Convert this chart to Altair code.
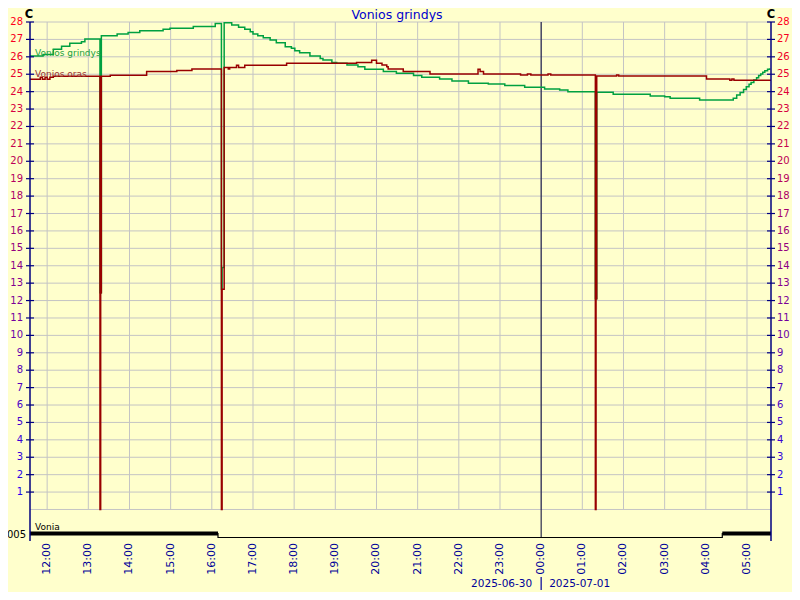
import altair as alt
import pandas as pd

# ---------------- data ----------------
GREEN_TIMES = ["11:35", "11:54", "12:09", "12:21", "12:33", "12:50", "12:55", "13:17", "13:19",
               "13:42", "13:58", "14:15", "14:49", "14:59", "15:33", "16:05", "16:14", "16:15",
               "16:18", "16:29", "16:39", "16:48", "16:56", "17:00", "17:07", "17:15", "17:25",
               "17:34", "17:47", "17:56", "18:01", "18:08", "18:23", "18:38", "18:42", "18:55",
               "19:02", "19:17", "19:33", "19:43", "20:10", "20:29", "20:54", "21:06", "21:32",
               "21:50", "22:14", "22:43", "23:07", "23:36", "00:05", "00:27", "00:39", "01:19",
               "01:21", "01:45", "02:39", "03:00", "03:08", "03:51", "04:40", "04:45", "04:50",
               "04:55", "04:59", "05:03", "05:06", "05:10", "05:14", "05:17", "05:20", "05:23",
               "05:26", "05:30", "05:33"]
GREEN_VALUES = [26.05, 26.14, 26.43, 26.6, 26.78, 26.87, 27.02, 12.45, 27.21,
                27.31, 27.39, 27.5, 27.58, 27.64, 27.74, 27.92, 12.65, 13.9,
                27.96, 27.83, 27.7, 27.58, 27.44, 27.31, 27.21, 27.1, 26.97,
                26.81, 26.58, 26.49, 26.35, 26.24, 26.05, 25.91, 25.82, 25.68,
                25.63, 25.53, 25.43, 25.28, 25.15, 25.05, 24.92, 24.82, 24.73,
                24.61, 24.48, 24.44, 24.35, 24.25, 24.15, 24.1, 24.0, 12.1,
                23.96, 23.85, 23.75, 23.71, 23.62, 23.52, 23.62, 23.8, 23.95,
                24.12, 24.28, 24.42, 24.52, 24.67, 24.8, 24.92, 25.02, 25.12,
                25.2, 25.28, 25.34]

RED_TIMES = ["11:35", "11:50", "11:53", "11:57", "12:00", "12:04", "12:09", "13:17", "13:18",
             "13:19", "13:32", "14:25", "15:09", "15:31", "16:14", "16:15", "16:18", "16:24",
             "16:26", "16:36", "16:39", "16:48", "17:49", "19:31", "19:53", "20:00", "20:08",
             "20:15", "20:17", "20:39", "21:18", "22:28", "22:31", "22:36", "23:30", "23:40",
             "23:45", "00:10", "00:14", "01:19", "01:20", "01:21", "01:50", "01:53", "04:01",
             "04:35", "04:38", "04:41", "05:35"]
RED_VALUES = [24.71, 24.82, 24.71, 24.82, 24.71, 24.82, 24.88, 0.0, 12.45,
              24.88, 24.94, 25.15, 25.22, 25.3, 0.0, 12.65, 25.38, 25.3,
              25.38, 25.51, 25.38, 25.51, 25.63, 25.68, 25.8, 25.63, 25.53,
              25.43, 25.3, 25.15, 25.01, 25.28, 25.15, 25.01, 24.96, 25.01,
              24.96, 25.01, 24.96, 0.0, 12.1, 24.9, 24.96, 24.9, 24.73,
              24.65, 24.73, 24.65, 24.65]

LANE_TIMES = ["11:35", "16:09", "04:24", "05:35"]
LANE_STATE = [1, 0, 1, 1]

Y_TICKS = list(range(1, 29))
GRID_Y = list(range(0, 29))
HOUR_TICKS = list(range(12, 30))
MIDNIGHT = [24]
DATE_LABELS = ["2025-06-30", "2025-07-01"]
TITLE = "Vonios grindys"
SERIES_NAMES = ["Vonios grindys", "Vonios oras"]
LANE_NAME = "Vonia"
LANE_CODE = "005"
UNIT = "C"


def hours(t):
    h, m = map(int, t.split(":"))
    v = h + m / 60
    return v + 24 if h < 11 else v


# ---------------- layout / style ----------------
W, H = 741, 516
X_DOM = [11 + 35 / 60, 29 + 35 / 60]
Y_DOM = [-1.638, 28]
LANE_ON = -1.38
LANE_OFF = -1.61
FONT = "DejaVu Sans"
BG = "#ffffcc"
GREEN = "#00a040"
RED = "#990000"
NAVY = "#000080"
GRID = "#c4c4c4"

xs = alt.Scale(domain=X_DOM, nice=False, zero=False)
ys = alt.Scale(domain=Y_DOM, nice=False, zero=False)

green_df = pd.DataFrame({"h": [hours(t) for t in GREEN_TIMES], "v": GREEN_VALUES})
red_df = pd.DataFrame({"h": [hours(t) for t in RED_TIMES], "v": RED_VALUES})
lane_h = [hours(t) for t in LANE_TIMES]
lane_df = pd.DataFrame({"h": lane_h, "lvl": [LANE_ON if s else LANE_OFF for s in LANE_STATE]})
on_df = pd.DataFrame([{"h": lane_h[i], "h2": lane_h[i + 1], "lvl": LANE_ON}
                      for i in range(len(LANE_STATE) - 1) if LANE_STATE[i]])

# grid
hgrid = alt.Chart(pd.DataFrame({"v": GRID_Y})).mark_rule(color=GRID, strokeWidth=1).encode(
    y=alt.Y("v:Q", scale=ys, axis=None), x=alt.value(0), x2=alt.value(W))
vgrid = alt.Chart(pd.DataFrame({"h": HOUR_TICKS})).transform_calculate(
    y0="0", y1="28").mark_rule(color=GRID, strokeWidth=1).encode(
    x=alt.X("h:Q", scale=xs, axis=None), y=alt.Y("y0:Q", scale=ys, axis=None), y2="y1:Q")
mid = alt.Chart(pd.DataFrame({"h": MIDNIGHT})).mark_rule(color="#000033", strokeWidth=1).encode(
    x=alt.X("h:Q", scale=xs, axis=None), y=alt.value(0), y2=alt.value(H))

# x labels (rotated hour labels)
xlabels = alt.Chart(pd.DataFrame({"h": HOUR_TICKS})).transform_calculate(
    lab="(datum.h % 24 < 10 ? '0' : '') + (datum.h % 24) + ':00'"
).mark_text(angle=270, align="right", baseline="middle", font=FONT, fontSize=11,
            color="#000099").encode(
    x=alt.X("h:Q", scale=xs, axis=None), y=alt.value(H + 5), text="lab:N")

# series
green = alt.Chart(green_df).mark_line(interpolate="step-after", color=GREEN, strokeWidth=1.5).encode(
    x=alt.X("h:Q", scale=xs, axis=None), y=alt.Y("v:Q", scale=ys, axis=None))
red = alt.Chart(red_df).mark_line(interpolate="step-after", color=RED, strokeWidth=1.5).encode(
    x=alt.X("h:Q", scale=xs, axis=None), y=alt.Y("v:Q", scale=ys, axis=None))

# lane
lane_line = alt.Chart(lane_df).mark_line(interpolate="step-after", color="black", strokeWidth=1.2).encode(
    x=alt.X("h:Q", scale=xs, axis=None), y=alt.Y("lvl:Q", scale=ys, axis=None))
lane_on = alt.Chart(on_df).mark_rule(color="black", strokeWidth=4).encode(
    x=alt.X("h:Q", scale=xs, axis=None), x2="h2:Q", y=alt.Y("lvl:Q", scale=ys, axis=None))

# axes (lines, ticks, labels)
ax_df = pd.DataFrame({"k": [0]})
left_line = alt.Chart(ax_df).mark_rule(color=NAVY, strokeWidth=1.5).encode(
    x=alt.value(0), y=alt.value(0), y2=alt.value(H + 3))
right_line = alt.Chart(ax_df).mark_rule(color=NAVY, strokeWidth=1.5).encode(
    x=alt.value(W), y=alt.value(0), y2=alt.value(H + 3))
tick_df = pd.DataFrame({"v": Y_TICKS})
left_ticks = alt.Chart(tick_df).mark_rule(color=NAVY, strokeWidth=1.2).encode(
    y=alt.Y("v:Q", scale=ys, axis=None), x=alt.value(-4), x2=alt.value(4))
right_ticks = alt.Chart(tick_df).mark_rule(color=NAVY, strokeWidth=1.2).encode(
    y=alt.Y("v:Q", scale=ys, axis=None), x=alt.value(W - 4), x2=alt.value(W + 4))
lab_color = alt.Color("v:Q", scale=alt.Scale(domain=[1, 28], range=["#2000ee", "#ff0018"],
                                             interpolate="rgb"), legend=None)
left_labels = alt.Chart(tick_df).mark_text(align="right", baseline="middle", font=FONT,
                                           fontSize=10).encode(
    y=alt.Y("v:Q", scale=ys, axis=None), x=alt.value(-7), text="v:Q", color=lab_color)
right_labels = alt.Chart(tick_df).mark_text(align="left", baseline="middle", font=FONT,
                                            fontSize=10).encode(
    y=alt.Y("v:Q", scale=ys, axis=None), x=alt.value(W + 6), text="v:Q", color=lab_color)


def label(txt, x, y, color="black", size=10, align="left", baseline="alphabetic", weight="normal"):
    return alt.Chart(pd.DataFrame({"t": [txt]})).mark_text(
        align=align, baseline=baseline, font=FONT, fontSize=size, color=color,
        fontWeight=weight).encode(text="t:N", x=alt.value(x), y=alt.value(y))


title = label(TITLE, 367, -7, color="#0000cc", size=12.5, align="center", baseline="middle")
unit_l = label(UNIT, -1, -4.5, size=11.5, align="center", weight="bold")
unit_r = label(UNIT, W, -4.5, size=11.5, align="center", weight="bold")
s1 = label(SERIES_NAMES[0], 5, 33.5, color="#20a040", size=9)
s2 = label(SERIES_NAMES[1], 5, 55, color="#993030", size=9)
lane_lab = label(LANE_NAME, 5, 508, size=9)
lane_code = label(LANE_CODE, -4, 516, size=10, align="right")

date_df = pd.DataFrame({"h": MIDNIGHT})
date_l = alt.Chart(date_df).mark_text(align="right", baseline="alphabetic", font=FONT, fontSize=10.5,
                                      color="#000099", dx=-9).encode(
    x=alt.X("h:Q", scale=xs, axis=None), y=alt.value(565), text=alt.value(DATE_LABELS[0]))
date_r = alt.Chart(date_df).mark_text(align="left", baseline="alphabetic", font=FONT, fontSize=10.5,
                                      color="#000099", dx=8).encode(
    x=alt.X("h:Q", scale=xs, axis=None), y=alt.value(565), text=alt.value(DATE_LABELS[1]))
date_sep = alt.Chart(date_df).mark_rule(color="#000099", strokeWidth=1.2).encode(
    x=alt.X("h:Q", scale=xs, axis=None), y=alt.value(555), y2=alt.value(568))

chart = alt.layer(
    hgrid, vgrid, mid, green, red, lane_line, lane_on, xlabels,
    left_line, right_line, left_ticks, right_ticks, left_labels, right_labels,
    title, unit_l, unit_r, s1, s2, lane_lab, lane_code, date_l, date_r, date_sep
).properties(
    width=W, height=H, background=BG,
    padding={"left": 22, "top": 14, "right": 21, "bottom": 54},
    autosize=alt.AutoSizeParams(type="none"),
).configure_view(strokeWidth=0, fill=BG)

chart.save("out.html", embed_options={"renderer": "svg", "actions": False})
